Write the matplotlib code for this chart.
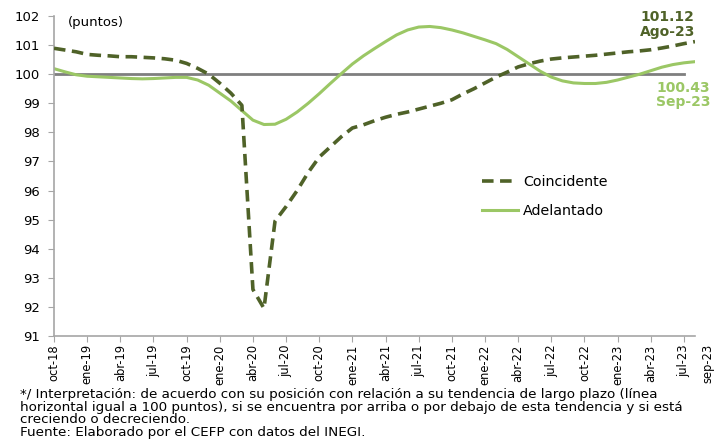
import numpy as np
import matplotlib
matplotlib.use('Agg')
import matplotlib.pyplot as plt

# monthly data, oct-18 .. ago-23 (index 0..58)
coincidente = [100.89, 100.83, 100.77, 100.68, 100.65, 100.63, 100.60, 100.60, 100.58, 100.56,
               100.53, 100.48, 100.37, 100.20, 100.00, 99.69, 99.35, 98.93, 92.60, 91.95,
               94.95, 95.45, 96.00, 96.62, 97.15, 97.50, 97.85, 98.15, 98.26, 98.40,
               98.52, 98.62, 98.70, 98.80, 98.90, 99.00, 99.12, 99.32, 99.50, 99.70,
               99.90, 100.07, 100.25, 100.36, 100.45, 100.52, 100.56, 100.59, 100.62, 100.65,
               100.69, 100.73, 100.77, 100.80, 100.84, 100.90, 100.97, 101.05, 101.12]
adelantado = [100.19, 100.08, 99.98, 99.93, 99.91, 99.89, 99.87, 99.85, 99.84, 99.85,
              99.87, 99.89, 99.89, 99.80, 99.62, 99.35, 99.08, 98.75, 98.42, 98.27,
              98.28, 98.45, 98.70, 99.00, 99.33, 99.68, 100.02, 100.35, 100.63, 100.88,
              101.12, 101.35, 101.52, 101.62, 101.64, 101.60, 101.52, 101.42, 101.30, 101.18,
              101.05, 100.85, 100.60, 100.35, 100.10, 99.90, 99.77, 99.70, 99.68, 99.68,
              99.72, 99.80, 99.90, 100.00, 100.12, 100.24, 100.33, 100.39, 100.43]
tick_labels = ['oct-18', 'ene-19', 'abr-19', 'jul-19', 'oct-19', 'ene-20', 'abr-20', 'jul-20',
               'oct-20', 'ene-21', 'abr-21', 'jul-21', 'oct-21', 'ene-22', 'abr-22', 'jul-22',
               'oct-22', 'ene-23', 'abr-23', 'jul-23']
last_label = 'sep-23'
referencia = 100

dark = '#4F6228'
light = '#9BC765'
grey = '#A6A6A6'

plt.rcParams['font.family'] = ['DejaVu Sans']

fig = plt.figure(figsize=(7.21, 4.41), dpi=100)
ax = fig.add_axes([54 / 721, 1 - 336 / 441, (695 - 54) / 721, 320 / 441])

x = np.arange(len(coincidente))
ax.plot([0, 57], [referencia, referencia], color='#7F7F7F', lw=2, zorder=1)
ax.plot(x, coincidente, color=dark, lw=2.6, dashes=(3.2, 1.8), label='Coincidente', zorder=3)
ax.plot(x, adelantado, color=light, lw=2.2, label='Adelantado', zorder=2)

ax.set_xlim(0, 58)
ax.set_ylim(91, 102)
ax.set_yticks(range(91, 103))
ax.set_xticks(range(0, 58, 3))
ax.set_xticklabels(tick_labels, rotation=90, fontsize=8.3)
ax.text(59.2, 90.75, last_label, rotation=90, ha='center', va='top', fontsize=8.3)
ax.tick_params(axis='y', labelsize=9.5, length=4, color=grey, pad=6)
ax.tick_params(axis='x', length=4, color=grey, pad=2)
for s in ['top', 'right']:
    ax.spines[s].set_visible(False)
for s in ['left', 'bottom']:
    ax.spines[s].set_color(grey)
    ax.spines[s].set_linewidth(1.2)

ax.text(0.022, 1.0, '(puntos)', transform=ax.transAxes, fontsize=9.5, va='top')

ax.text(55.5, 102.2, '101.12\nAgo-23', color=dark, fontsize=10, fontweight='bold',
        ha='center', va='top', linespacing=1.05)
ax.text(56.9, 99.78, '100.43\nSep-23', color=light, fontsize=10, fontweight='bold',
        ha='center', va='top', linespacing=1.05)

fig.legend(loc='upper left', bbox_to_anchor=(469 / 721, 1 - 162 / 441), frameon=False,
           fontsize=10.3, handlelength=2.5, labelspacing=1.05, handletextpad=0.4)

foot = ('*/ Interpretación: de acuerdo con su posición con relación a su tendencia de largo plazo (línea\n'
        'horizontal igual a 100 puntos), si se encuentra por arriba o por debajo de esta tendencia y si está\n'
        'creciendo o decreciendo.\n'
        'Fuente: Elaborado por el CEFP con datos del INEGI.')
fig.text(20 / 721, 1 - 388 / 441, foot, fontsize=9.7, va='top', ha='left', linespacing=0.97)

fig.savefig('out.png', dpi=100)
